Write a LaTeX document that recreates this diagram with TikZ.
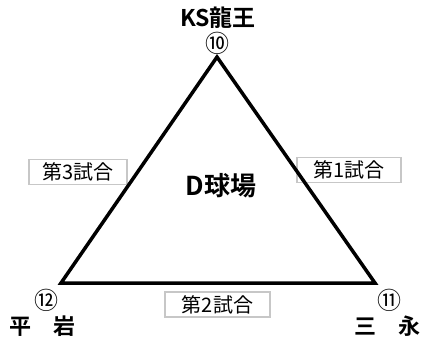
\documentclass[tikz,border=0pt]{standalone}
\usepackage{fontspec}
\setmainfont{Noto Sans CJK JP}[BoldFont={Noto Sans CJK JP Bold}]
\usetikzlibrary{positioning}

\tikzset{
  teamname/.style={font=\bfseries\fontsize{22}{22}\selectfont, inner sep=0pt},
  seednum/.style={font=\fontsize{24}{24}\selectfont, inner sep=0pt},
  matchbox/.style={draw=black!22, line width=1.8pt, fill=white, font=\fontsize{20}{20}\selectfont,
    minimum height=25pt, inner xsep=4pt, inner ysep=1pt},
}

\begin{document}
\begin{tikzpicture}[x=1pt, y=-1pt]

            \useasboundingbox (0,0) rectangle (421,341);

            \coordinate (T) at (217, 57);
            \coordinate (L) at (61, 283);
            \coordinate (R) at (375, 283);

            % Draw the matches
            \node[matchbox, minimum width=98pt] (m3) at (78, 172) {第3試合};
            \node[matchbox, minimum width=104pt] (m1) at (349, 170) {第1試合};
            \node[matchbox, minimum width=105pt] (m2) at (217.5, 304.5) {第2試合};

            % Draw the triangle
            \draw[line width=3.5pt, line join=miter] (T) -- (R) -- (L) -- cycle;

            % Draw the teams
            \node[teamname, font=\bfseries\fontsize{23}{23}\selectfont] (ks) at (218, 18) {KS龍王};
            \node[seednum] (n10) at (217.5, 43) {⑩};
            \node[seednum] (n12) at (46.5, 300) {⑫};
            \node[teamname] (hira) at (42.5, 326) {平　岩};
            \node[seednum] (n11) at (389, 300) {⑪};
            \node[teamname] (mie) at (387.5, 326) {三　永};

            % Draw the ground
            \node[font=\bfseries\fontsize{26}{26}\selectfont] (ground) at (221, 185.5) {D球場};

        \end{tikzpicture}
\end{document}
